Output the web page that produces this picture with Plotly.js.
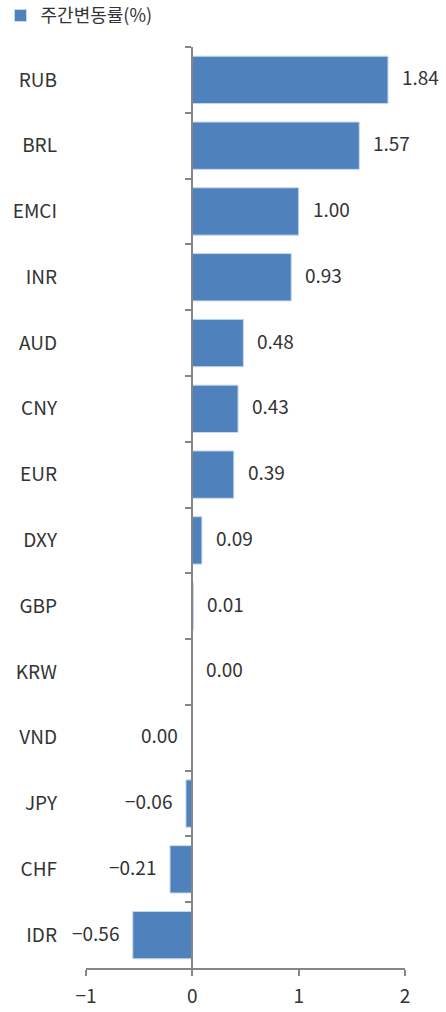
<!DOCTYPE html>
<html>
<head>
<meta charset="utf-8">
<script src="https://cdn.plot.ly/plotly-3.0.1.min.js"></script>
<style>html,body{margin:0;padding:0;background:#fff;}#chart{width:446px;height:1012px;}</style>
</head>
<body>
<div id="chart"></div>
<script>
const categories = ['RUB','BRL','EMCI','INR','AUD','CNY','EUR','DXY','GBP','KRW','VND','JPY','CHF','IDR'];
const values = [1.84, 1.57, 1.00, 0.93, 0.48, 0.43, 0.39, 0.09, 0.01, 0.00, -0.001, -0.06, -0.21, -0.56];
const seriesName = '주간변동률(%)';
const xTicks = [-1, 0, 1, 2];

const FONT = 'Noto Sans CJK KR, Noto Sans, sans-serif';
const TXT = '#333333';
const fmt = v => {
  const s = Math.abs(v).toFixed(2);
  return (v < 0 && s !== '0.00') ? '\u2212' + s : s;
};

const annotations = categories.map((c, i) => {
  const v = values[i];
  const neg = v < 0;
  return {
    x: v, y: c, xref: 'x', yref: 'y',
    text: fmt(v), showarrow: false,
    xanchor: neg ? 'right' : 'left',
    xshift: neg ? -12 : 12, yshift: 3,
    font: {family: FONT, size: 19, color: TXT}
  };
});

const data = [
  {
    type: 'bar', orientation: 'h',
    x: values, y: categories, name: seriesName,
    width: 0.72,
    marker: {color: '#4F81BD', line: {color: '#C6D9F1', width: 1}},
    hoverinfo: 'skip'
  },
  {
    type: 'bar', orientation: 'h',
    x: categories.map(() => 0), y: categories, yaxis: 'y2',
    showlegend: false, hoverinfo: 'skip',
    marker: {color: 'rgba(0,0,0,0)'}
  }
];

const layout = {
  width: 446, height: 1012,
  margin: {l: 86, r: 41, t: 47, b: 44, autoexpand: false},
  paper_bgcolor: '#fff', plot_bgcolor: '#fff',
  font: {family: FONT, size: 19, color: TXT},
  showlegend: true,
  legend: {
    x: -0.268, y: 1.054, xanchor: 'left', yanchor: 'top',
    font: {family: FONT, size: 18, color: TXT},
    itemwidth: 30, bgcolor: 'rgba(0,0,0,0)'
  },
  barmode: 'overlay',
  xaxis: {
    range: [-1, 2], tickvals: xTicks,
    showgrid: false, zeroline: false,
    showline: true, linecolor: '#868686', linewidth: 2,
    ticks: 'outside', ticklen: 6, tickcolor: '#868686', tickwidth: 2,
    ticklabelstandoff: 4,
    tickfont: {family: FONT, size: 19, color: TXT},
    fixedrange: true
  },
  yaxis: {
    type: 'category', categoryorder: 'array', categoryarray: categories,
    range: [categories.length - 0.5, -0.5],
    showgrid: false, zeroline: false, showline: false, ticks: '',
    ticklabelstandoff: 28,
    tickfont: {family: FONT, size: 19, color: TXT},
    fixedrange: true
  },
  yaxis2: {
    type: 'category', categoryorder: 'array', categoryarray: categories,
    range: [categories.length - 0.5, -0.5],
    overlaying: 'y', anchor: 'free', position: 1/3,
    showgrid: false, zeroline: false,
    showline: true, linecolor: '#868686', linewidth: 2,
    ticks: 'outside', tickson: 'boundaries', ticklen: 6, tickcolor: '#868686', tickwidth: 2,
    showticklabels: false, fixedrange: true
  },
  annotations: annotations
};

Plotly.newPlot('chart', data, layout, {displayModeBar: false, staticPlot: true});
</script>
</body>
</html>
